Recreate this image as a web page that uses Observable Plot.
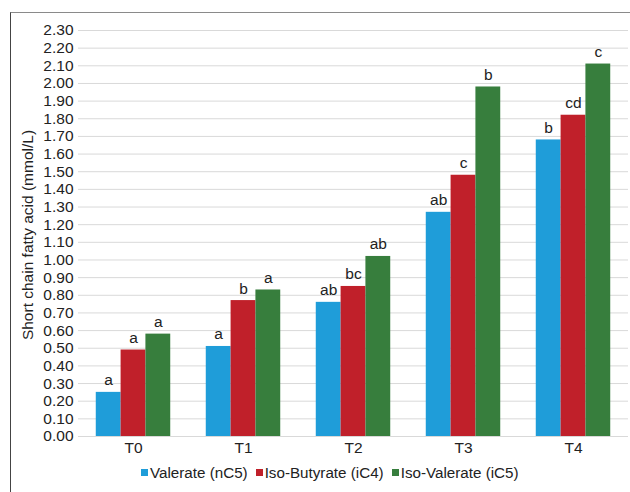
<!DOCTYPE html>
<html>
<head>
<meta charset="utf-8">
<script src="https://cdn.jsdelivr.net/npm/d3@7"></script>
<script src="https://cdn.jsdelivr.net/npm/@observablehq/plot@0.6"></script>
<style>
  html, body { margin: 0; padding: 0; background: #fff; }
  body { width: 630px; height: 492px; position: relative; overflow: hidden; font-family: "Liberation Sans", Arial, sans-serif; color: #222; }
  #frame { position: absolute; left: 10px; top: 12px; width: 640px; height: 500px; border-left: 1px solid #444; border-top: 1px solid #8a8a8a; box-sizing: border-box; }
  #chart { position: absolute; left: 0; top: 0; }
  #ylabel { position: absolute; left: 28px; top: 235px; transform: translate(-50%, -50%) rotate(-90deg); white-space: nowrap; font-size: 15.5px; }
  #legend { position: absolute; left: 141px; top: 464px; display: flex; align-items: center; font-size: 15.2px; white-space: nowrap; }
  #legend .item { display: flex; align-items: center; margin-right: 8px; }
  #legend .sw { width: 7px; height: 7px; margin-right: 2px; display: inline-block; }
</style>
</head>
<body>
<div id="frame"></div>
<div id="chart"></div>
<div id="ylabel">Short chain fatty acid (mmol/L)</div>
<div id="legend"></div>
<script>
const groups = ["T0", "T1", "T2", "T3", "T4"];
const series = ["Valerate (nC5)", "Iso-Butyrate (iC4)", "Iso-Valerate (iC5)"];
const colors = ["#1f9dd9", "#c0202a", "#377e3d"];
const valerate = [0.25, 0.51, 0.76, 1.27, 1.68];
const isoButyrate = [0.49, 0.77, 0.85, 1.48, 1.82];
const isoValerate = [0.58, 0.83, 1.02, 1.98, 2.11];
const valerateSig = ["a", "a", "ab", "ab", "b"];
const isoButyrateSig = ["a", "b", "bc", "c", "cd"];
const isoValerateSig = ["a", "a", "ab", "b", "c"];
const yTicks = [0, 0.1, 0.2, 0.3, 0.4, 0.5, 0.6, 0.7, 0.8, 0.9, 1.0, 1.1, 1.2, 1.3, 1.4, 1.5, 1.6, 1.7, 1.8, 1.9, 2.0, 2.1, 2.2, 2.3];

const valuesBySeries = [valerate, isoButyrate, isoValerate];
const sigBySeries = [valerateSig, isoButyrateSig, isoValerateSig];
const data = groups.flatMap((g, i) => series.map((s, j) => ({
  group: g, series: s, value: valuesBySeries[j][i], sig: sigBySeries[j][i]
})));

const FS = 15.5;
const plot = Plot.plot({
  width: 630,
  height: 462,
  marginLeft: 76,
  marginRight: 0,
  marginTop: 30,
  marginBottom: 26,
  style: { fontFamily: "'Liberation Sans', Arial, sans-serif", fontSize: FS + "px", color: "#222", background: "transparent" },
  fx: { domain: groups, padding: 0, label: null, axis: "bottom", tickSize: 0, tickPadding: 5 },
  x: { domain: series, paddingInner: 0, paddingOuter: 0.716, axis: null, round: false },
  y: { domain: [0, 2.3], axis: null },
  color: { domain: series, range: colors },
  marks: [
    Plot.ruleY(yTicks, { stroke: "#d9d9d9", strokeWidth: 1 }),
    Plot.axisY(yTicks, { tickFormat: d3.format(".2f"), tickSize: 0, tickPadding: 5, label: null, fontSize: FS }),
    Plot.barY(data, { fx: "group", x: "series", y: "value", fill: "series" }),
    Plot.text(data, { fx: "group", x: "series", y: "value", text: "sig", dy: -7, lineAnchor: "bottom", fontSize: FS, fill: "#222" })
  ]
});
document.getElementById("chart").appendChild(plot);

const legend = document.getElementById("legend");
series.forEach((s, j) => {
  const item = document.createElement("span");
  item.className = "item";
  const sw = document.createElement("span");
  sw.className = "sw";
  sw.style.background = colors[j];
  item.appendChild(sw);
  item.appendChild(document.createTextNode(s));
  legend.appendChild(item);
});
</script>
</body>
</html>
